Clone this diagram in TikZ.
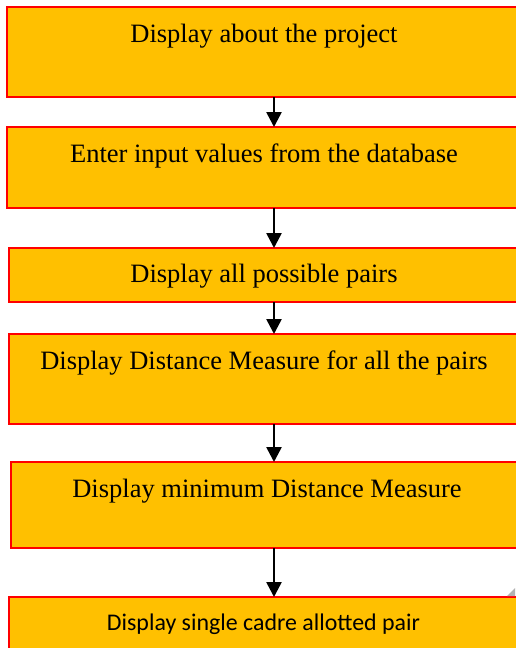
\documentclass[tikz,border=0pt]{standalone}
\usepackage{fontspec}
\setmainfont{Liberation Serif}
\newfontfamily\labelsans{Carlito}
\usetikzlibrary{arrows.meta}

\definecolor{boxfill}{HTML}{FFC000}
\definecolor{boxline}{HTML}{FF0000}

\tikzset{
  stepbox/.style={draw=boxline, fill=boxfill, line width=2pt, rectangle,
    inner sep=0pt, outer sep=0pt, anchor=north west},
  steptext/.style={anchor=base, inner sep=0pt, font=\fontsize{26.5}{30}\selectfont},
  flow/.style={line width=2.6pt, -{Triangle[width=15pt,length=15pt]}}
}

\begin{document}
\begin{tikzpicture}[x=1pt, y=-1pt]
  \useasboundingbox (0,0) rectangle (515,648);

  % process boxes (they run past the right margin)
  \node[stepbox, minimum width=523pt, minimum height=90pt] (b1) at (7,7) {};
  \node[stepbox, minimum width=523pt, minimum height=81pt] (b2) at (7,127) {};
  \node[stepbox, minimum width=521pt, minimum height=54pt] (b3) at (9,248) {};
  \node[stepbox, minimum width=521pt, minimum height=90pt] (b4) at (9,334) {};
  \node[stepbox, minimum width=519pt, minimum height=86pt] (b5) at (11,462) {};
  \node[stepbox, minimum width=521pt, minimum height=70pt] (b6) at (9,597) {};

  % labels
  \node[steptext] (t1) at (264,42) {Display about the project};
  \node[steptext] (t2) at (264,162) {Enter input values from the database};
  \node[steptext] (t3) at (264,282) {Display all possible pairs};
  \node[steptext] (t4) at (264,369) {Display Distance Measure for all the pairs};
  \node[steptext] (t5) at (267,497) {Display minimum Distance Measure};
  \node[anchor=base, inner sep=0pt, font=\labelsans\fontsize{23.9}{28}\selectfont]
    (t6) at (263.5,630) {Display single cadre allotted pair};

  % flow arrows
  \coordinate (ax) at (274,0);
  \draw[flow] (b1.south -| ax) -- (b2.north -| ax);
  \draw[flow] (b2.south -| ax) -- (b3.north -| ax);
  \draw[flow] (b3.south -| ax) -- (b4.north -| ax);
  \draw[flow] (b4.south -| ax) -- (b5.north -| ax);
  \draw[flow] (b5.south -| ax) -- (b6.north -| ax);

  % small grey corner mark
  \fill[gray!60] (515,588) -- (515,596) -- (507,596) -- cycle;
\end{tikzpicture}
\end{document}
